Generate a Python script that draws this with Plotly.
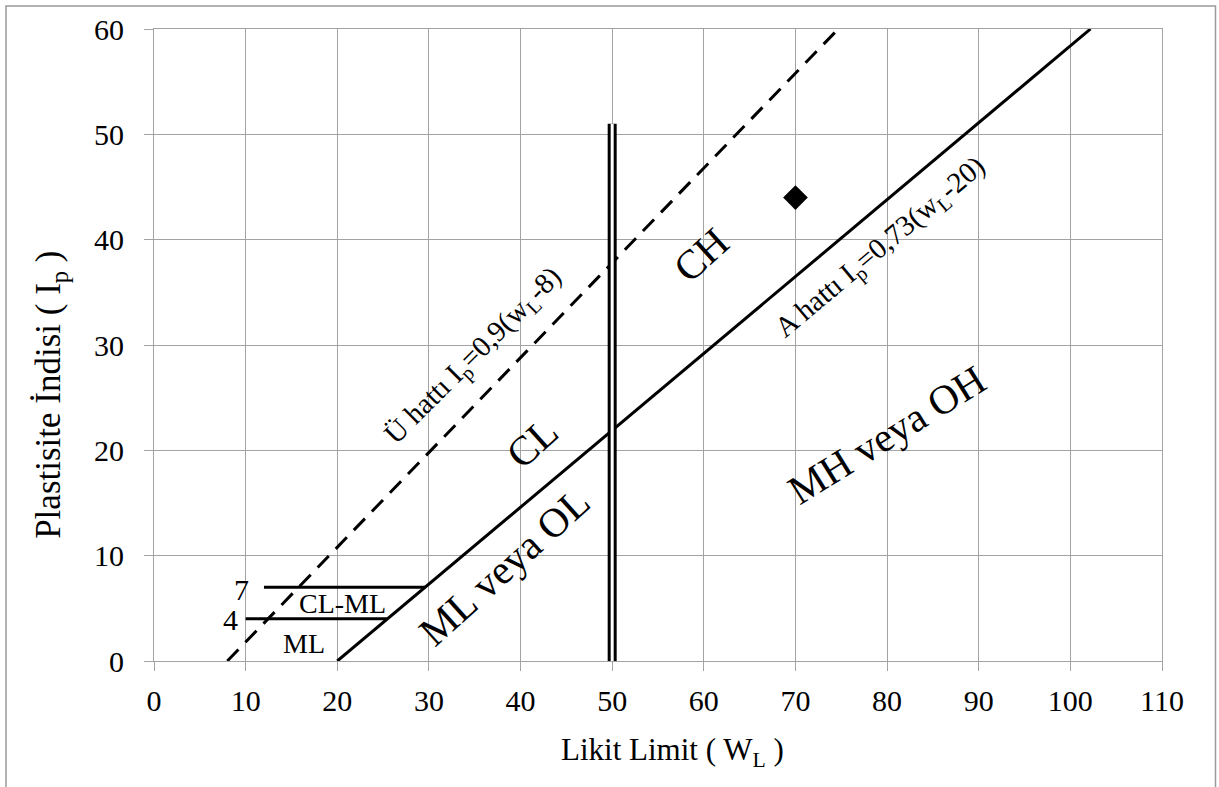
import plotly.graph_objects as go

FONT = "Liberation Serif, Times New Roman, serif"
GRID = "#a3a3a3"

# Axis ticks
x_ticks = [0, 10, 20, 30, 40, 50, 60, 70, 80, 90, 100, 110]
y_ticks = [0, 10, 20, 30, 40, 50, 60]

# A line: Ip = 0.73 (wL - 20)
a_slope, a_offset = 0.73, 20
a_wl = [20, 102.2]
a_ip = [a_slope * (w - a_offset) for w in a_wl]

# U line: Ip = 0.9 (wL - 8)
u_slope, u_offset = 0.9, 8
u_wl = [8, 74.67]
u_ip = [u_slope * (w - u_offset) for w in u_wl]

# CL-ML band limits (Ip = 7 and Ip = 4), each running to the A line
band_ip = [7, 4]
band_start_wl = [12, 10]
band_end_wl = [ip / a_slope + a_offset for ip in band_ip]

# wL = 50 divider between low and high plasticity
divider_wl = [50, 50]
divider_ip = [0, 51]

# Tested soil sample
sample_wl = [70]
sample_ip = [44]

fig = go.Figure()

fig.add_trace(go.Scatter(x=u_wl, y=u_ip, mode="lines",
                         line=dict(color="black", width=3, dash="16px,10px")))
fig.add_trace(go.Scatter(x=a_wl, y=a_ip, mode="lines",
                         line=dict(color="black", width=3)))
for ip, w0, w1 in zip(band_ip, band_start_wl, band_end_wl):
    fig.add_trace(go.Scatter(x=[w0, w1], y=[ip, ip], mode="lines",
                             line=dict(color="black", width=3)))
# double line: thick black stroke with a thin white core
fig.add_trace(go.Scatter(x=divider_wl, y=divider_ip, mode="lines",
                         line=dict(color="black", width=9)))
fig.add_trace(go.Scatter(x=divider_wl, y=divider_ip, mode="lines",
                         line=dict(color="white", width=3)))
fig.add_trace(go.Scatter(x=sample_wl, y=sample_ip, mode="markers",
                         marker=dict(symbol="diamond", size=19, color="black")))

def label(text, x, y, size, angle=0):
    fig.add_annotation(x=x, y=y, xref="x", yref="y", text=text, showarrow=False,
                       textangle=angle, font=dict(family=FONT, size=size, color="black"),
                       xanchor="center", yanchor="middle")

label("Ü hattı I<sub>p</sub>=0,9(w<sub>L</sub>-8)", 34.95, 28.9, 29, -45)
label("A hattı I<sub>p</sub>=0,73(w<sub>L</sub>-20)", 79.3, 39.2, 29, -40)
label("CL", 41.2, 20.7, 41, -42)
label("CH", 59.7, 38.5, 41, -42)
label("ML veya OL", 38.3, 9.0, 41, -42)
label("MH veya OH", 79.9, 21.5, 41, -32)
label("CL-ML", 20.6, 5.5, 28)
label("ML", 16.4, 1.7, 28)
label("7", 9.6, 6.8, 30)
label("4", 8.3, 3.9, 30)

# Axis titles
fig.add_annotation(x=(672 - 154) / 1008, y=(661 - 752) / 634, xref="paper", yref="paper",
                   text="Likit Limit ( W<sub>L</sub> )", showarrow=False,
                   font=dict(family=FONT, size=31, color="black"),
                   xanchor="center", yanchor="middle")
fig.add_annotation(x=(51 - 154) / 1008, y=(661 - 394) / 634, xref="paper", yref="paper",
                   text="Plastisite İndisi ( I<sub>p</sub> )", showarrow=False, textangle=-90,
                   font=dict(family=FONT, size=35, color="black"),
                   xanchor="center", yanchor="middle")

# Outer chart frame
fig.add_shape(type="rect", xref="paper", yref="paper",
              x0=(6 - 154) / 1008, x1=(1215.5 - 154) / 1008,
              y0=(661 - 820) / 634, y1=(661 - 4) / 634,
              line=dict(color="#9a9a9a", width=1.5), fillcolor="rgba(0,0,0,0)", layer="below")

axis_common = dict(showgrid=True, gridcolor=GRID, gridwidth=1, zeroline=False,
                   showline=True, linecolor=GRID, linewidth=1, mirror=True,
                   ticks="outside", ticklen=9, tickcolor=GRID, tickwidth=1,
                   tickfont=dict(family=FONT, size=30, color="black"))

fig.update_xaxes(range=[0, 110], tickvals=x_ticks, ticklabelstandoff=4, **axis_common)
fig.update_yaxes(range=[0, 60], tickvals=y_ticks, ticklabelstandoff=14, **axis_common)

fig.update_layout(width=1219, height=787, showlegend=False,
                  margin=dict(l=154, r=57, t=27, b=126),
                  plot_bgcolor="white", paper_bgcolor="white",
                  font=dict(family=FONT, color="black"))

fig.write_html("out.html")
